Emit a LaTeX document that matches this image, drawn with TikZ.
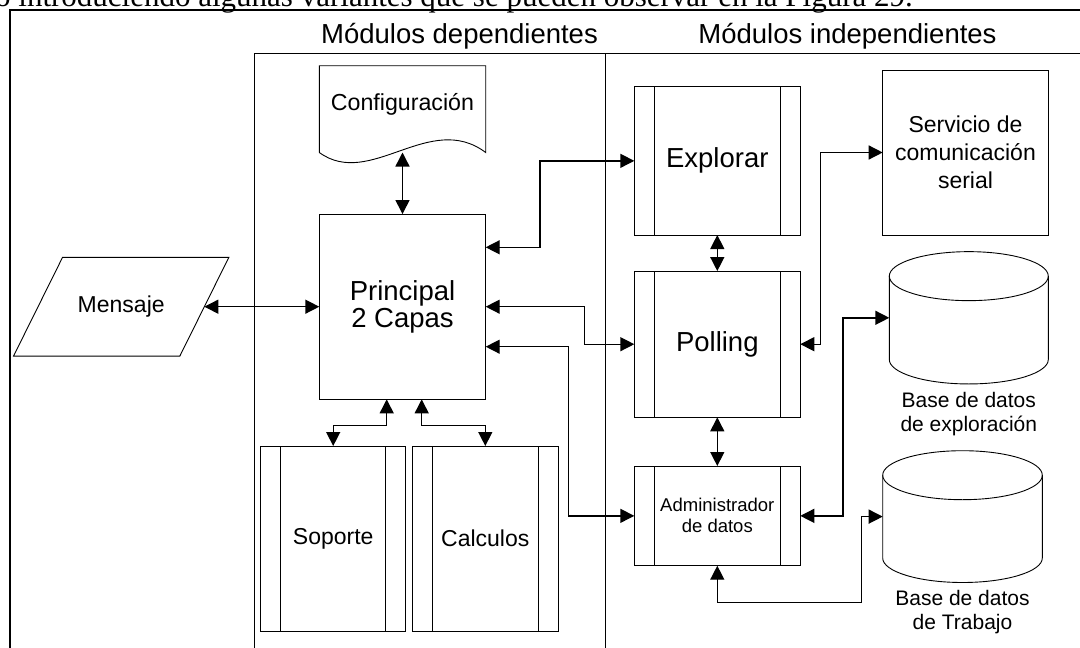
\documentclass[tikz,border=0pt]{standalone}
\usepackage{fontspec}
\setmainfont{Liberation Sans}
\newfontfamily\seriff{Liberation Serif}
\usetikzlibrary{arrows.meta,calc}
\newcommand\myfs[2]{\fontsize{#1}{#2}\selectfont}
\begin{document}
\begin{tikzpicture}[x=1pt,y=-1pt,
  box/.style={draw, line width=0.9pt, inner sep=0pt, outer sep=0pt, align=center},
  inv/.style={inner sep=0pt, outer sep=0pt, align=center},
  subproc/.style={box, path picture={
      \draw[line width=0.9pt] ([xshift=20pt]path picture bounding box.north west) -- ([xshift=20pt]path picture bounding box.south west);
      \draw[line width=0.9pt] ([xshift=-20pt]path picture bounding box.north east) -- ([xshift=-20pt]path picture bounding box.south east);}},
  conn/.style={line width=1.4pt, {Triangle[length=14pt,width=14pt]}-{Triangle[length=14pt,width=14pt]}},
  shp/.style={line width=0.9pt},
  title/.style={anchor=base, font=\myfs{27.5}{30}}
]
\fill[white] (0,0) rectangle (1080,648);
\useasboundingbox (0,0) rectangle (1080,648);
\clip (0,0) rectangle (1080,648);

% clipped line of body text above the figure
\node[anchor=base east, inner sep=0pt, font=\seriff\myfs{31}{34}] (bodytext) at (913,6) {o introduciendo algunas variantes que se pueden observar en la Figura 29.};

% frames
\draw[line width=2pt] (10,700) -- (10,10) -- (1100,10);
\draw[line width=1pt] (254,700) -- (254,53) -- (1100,53);
\draw[line width=1pt] (605,53) -- (605,700);

\node[title] (t1) at (459.5,43.5) {Módulos dependientes};
\node[title] (t2) at (847.5,43.5) {Módulos independientes};

% Configuración (document shape)
\node[inv, minimum width=166.4pt, minimum height=86.8pt] (conf) at (402.5,109.1) {};
\draw[shp] (conf.south west) -- (conf.north west) -- (conf.north east) -- (conf.south east)
  .. controls +(-56,-42) and +(51,37) .. (conf.south west);
\node[inv, anchor=base, font=\myfs{23.2}{26}] (conftext) at ([yshift=-1.6pt]conf.center) {Configuración};

% Principal
\node[box, minimum width=166.4pt, minimum height=185.3pt, font=\myfs{27.5}{27}] (princ) at (402.5,306.7) {Principal\\2 Capas};

% Mensaje (parallelogram)
\node[inv, minimum width=166.3pt, minimum height=98.7pt, font=\myfs{23}{26}] (msg) at (121.2,306.7) {Mensaje};
\draw[shp] ([xshift=24.5pt]msg.north west) -- ([xshift=24.5pt]msg.north east) -- ([xshift=-24.5pt]msg.south east) -- ([xshift=-24.5pt]msg.south west) -- cycle;

% Soporte, Calculos
\node[subproc, minimum width=145pt, minimum height=185pt, font=\myfs{23}{26}] (sop) at (333.2,538.5) {Soporte};
\node[subproc, minimum width=146pt, minimum height=185pt, font=\myfs{23}{26}] (calc) at (485.3,538.5) {Calculos};

% independent modules
\node[subproc, minimum width=166pt, minimum height=148.3pt, font=\myfs{27.5}{30}] (expl) at (717.3,160.85) {Explorar};
\node[subproc, minimum width=166pt, minimum height=146.3pt, font=\myfs{27.5}{30}] (poll) at (717.3,344.2) {Polling};
\node[subproc, minimum width=166pt, minimum height=99.7pt, font=\myfs{18.5}{21}] (admin) at (717.3,515.85) {Administrador\\de datos};
\node[box, minimum width=165.6pt, minimum height=165pt, font=\myfs{23}{28}] (serv) at (965.5,152.5) {Servicio de\\comunicación\\serial};

% cylinders
\node[inv, minimum width=159pt, minimum height=132.3pt] (c1) at (968.8,317.8) {};
\draw[shp] ([yshift=-24.5pt]c1.north west) -- ([yshift=24.5pt]c1.south west)
  arc[start angle=180, end angle=360, x radius=79.5pt, y radius=24.5pt] -- ([yshift=-24.5pt]c1.north east);
\draw[shp] ([yshift=-24.5pt]c1.north) ellipse [x radius=79.5pt, y radius=24.5pt];
\node[inv, anchor=north, font=\myfs{21}{24}] (l1) at ([yshift=-8pt]c1.south) {Base de datos\\de exploración};

\node[inv, minimum width=159.6pt, minimum height=131.8pt] (c2) at (962.5,516.6) {};
\draw[shp] ([yshift=-24.5pt]c2.north west) -- ([yshift=24.5pt]c2.south west)
  arc[start angle=180, end angle=360, x radius=79.8pt, y radius=24.5pt] -- ([yshift=-24.5pt]c2.north east);
\draw[shp] ([yshift=-24.5pt]c2.north) ellipse [x radius=79.8pt, y radius=24.5pt];
\node[inv, anchor=north, font=\myfs{21}{24}] (l2) at ([yshift=-8pt]c2.south) {Base de datos\\de Trabajo};

% connectors
\draw[conn] (conf.south) -- (princ.north);
\draw[conn] (msg.east) -- (princ.west);
\draw[conn] ([yshift=59.4pt]princ.east) -- ++(54.3,0) |- (expl.west);
\draw[conn] (princ.east) -- ++(98.6,0) |- (poll.west);
\draw[conn] ([yshift=-40pt]princ.east) -- ++(82.6,0) |- (admin.west);
\draw[conn] ([xshift=-15.8pt]princ.south) -- ++(0,26) -| (sop.north);
\draw[conn] ([xshift=19.2pt]princ.south) -- ++(0,26) -| (calc.north);
\draw[conn] (expl.south) -- (poll.north);
\draw[conn] (poll.south) -- (admin.north);
\draw[conn] (poll.east) -- ++(20.4,0) |- (serv.west);
\draw[conn] (admin.east) -- ++(42.7,0) |- (c1.west);
\draw[conn] (admin.south) -- ++(0,36.8) -- ++(144.3,0) |- (c2.west);
\end{tikzpicture}
\end{document}
